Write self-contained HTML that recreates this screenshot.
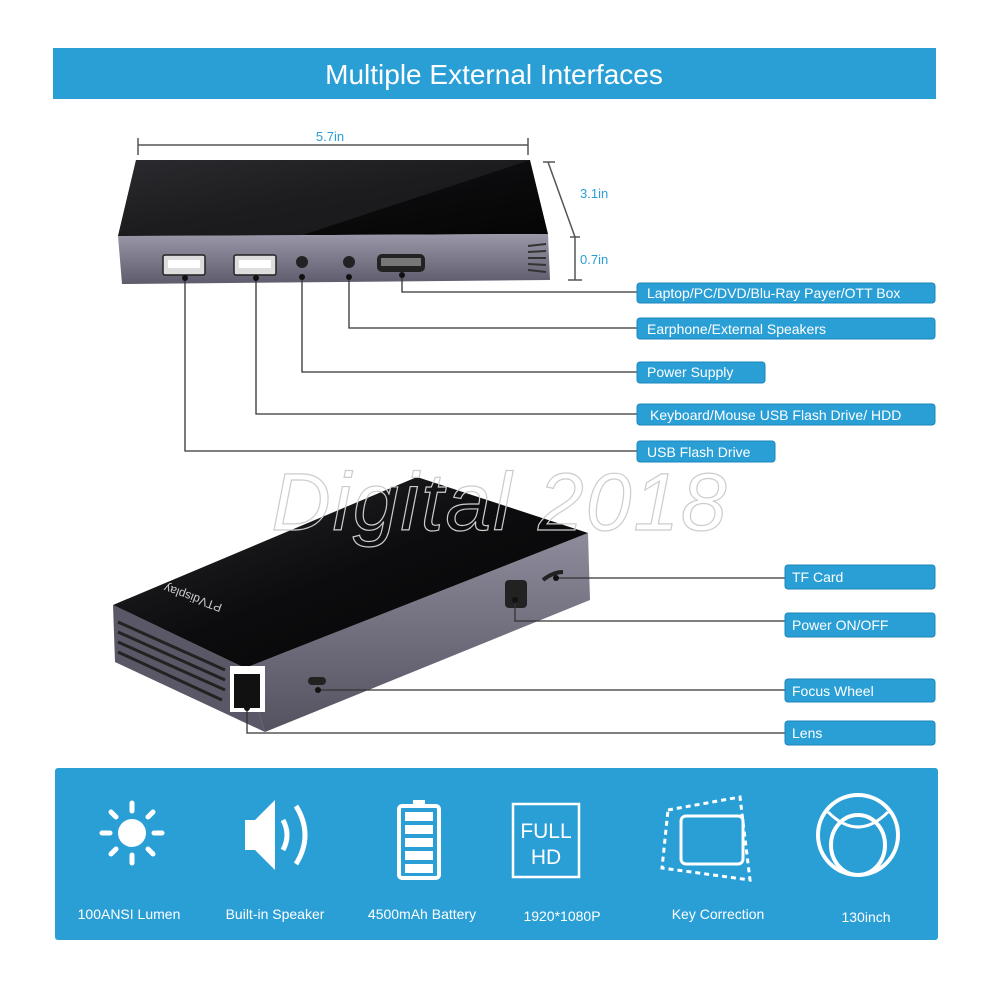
<!DOCTYPE html>
<html><head><meta charset="utf-8"><style>
html,body{margin:0;padding:0;background:#fff}
svg{display:block}
text{font-family:"Liberation Sans",sans-serif}
</style></head><body>
<svg width="1000" height="1000" viewBox="0 0 1000 1000" xmlns="http://www.w3.org/2000/svg">
<defs>
<linearGradient id="tg" x1="0" y1="0" x2="1" y2="1"><stop offset="0" stop-color="#2a2a2e"/><stop offset="0.5" stop-color="#0c0c0e"/><stop offset="1" stop-color="#050505"/></linearGradient>
<linearGradient id="sg" x1="0" y1="0" x2="0" y2="1"><stop offset="0" stop-color="#9a98a8"/><stop offset="1" stop-color="#5e5c6c"/></linearGradient>
<linearGradient id="sg2" x1="0" y1="0" x2="0" y2="1"><stop offset="0" stop-color="#8e8c9c"/><stop offset="1" stop-color="#54525f"/></linearGradient>
</defs>
<rect x="53" y="48" width="883" height="51" fill="#2a9fd6"/>
<text x="494" y="84" font-size="28" fill="#fff" text-anchor="middle">Multiple External Interfaces</text>

<g stroke="#555" stroke-width="1.5" fill="none">
<line x1="138" y1="145" x2="528" y2="145"/><line x1="138" y1="138" x2="138" y2="155"/><line x1="528" y1="138" x2="528" y2="155"/>
<line x1="548" y1="162" x2="575" y2="237"/><line x1="543" y1="162" x2="555" y2="162"/>
<line x1="570" y1="237" x2="580" y2="237"/><line x1="575" y1="237" x2="575" y2="280"/><line x1="568" y1="280" x2="582" y2="280"/>
</g>
<text x="330" y="141" font-size="13" fill="#2a9fd6" text-anchor="middle">5.7in</text>
<text x="580" y="198" font-size="13" fill="#2a9fd6">3.1in</text>
<text x="580" y="264" font-size="13" fill="#2a9fd6">0.7in</text>

<polygon points="136,160 530,160 548,234 118,236" fill="url(#tg)"/>
<polygon points="136,160 530,160 300,236 118,236" fill="#2c2c30" opacity="0.5"/>
<polygon points="118,236 548,234 550,280 122,284" fill="url(#sg)"/>
<g fill="#ddd" stroke="#222" stroke-width="1.5">
<rect x="163" y="255" width="42" height="20" rx="2"/><rect x="234" y="255" width="42" height="20" rx="2"/>
</g>
<rect x="168" y="260" width="32" height="8" fill="#fff"/><rect x="239" y="260" width="32" height="8" fill="#fff"/>
<circle cx="302" cy="262" r="6" fill="#222"/><circle cx="349" cy="262" r="6" fill="#222"/>
<rect x="377" y="254" width="48" height="18" rx="5" fill="#222"/><rect x="381" y="258" width="40" height="8" fill="#777"/>
<g stroke="#333" stroke-width="2"><line x1="528" y1="246" x2="546" y2="244"/><line x1="528" y1="252" x2="546" y2="251"/><line x1="528" y1="258" x2="546" y2="258"/><line x1="528" y1="264" x2="546" y2="265"/><line x1="528" y1="270" x2="546" y2="272"/></g>

<!-- bottom device -->
<polygon points="245,668 588,533 590,600 265,732" fill="url(#sg2)"/>
<polygon points="113,605 245,668 265,732 115,662" fill="#5a5866"/>
<polygon points="417,477 588,533 245,668 113,605" fill="url(#tg)"/>
<g stroke="#222" stroke-width="3"><line x1="118" y1="622" x2="225" y2="670"/><line x1="118" y1="632" x2="225" y2="680"/><line x1="118" y1="642" x2="225" y2="690"/><line x1="118" y1="652" x2="222" y2="700"/></g>
<rect x="230" y="666" width="35" height="46" fill="#fff"/><rect x="234" y="674" width="26" height="34" fill="#111"/>
<rect x="505" y="580" width="22" height="28" rx="4" fill="#222"/>
<path d="M543 580 q10-8 20-8" stroke="#222" stroke-width="4" fill="none"/>
<rect x="308" y="677" width="18" height="8" rx="4" fill="#222"/>
<text x="220" y="620" font-size="12" fill="#ccc" transform="rotate(200 220 612)">PTVdisplay</text>

<text x="500" y="530" font-size="82" font-style="italic" fill="none" stroke="#ccc" stroke-width="1.2" text-anchor="middle" letter-spacing="2">Digital 2018</text>

<g stroke="#333" stroke-width="1.3" fill="none">
<polyline points="402,275 402,292 637,292"/>
<polyline points="349,277 349,328 637,328"/>
<polyline points="302,277 302,372 637,372"/>
<polyline points="256,278 256,414 637,414"/>
<polyline points="185,278 185,451 637,451"/>
<polyline points="556,578 785,578"/>
<polyline points="515,600 515,621 785,621"/>
<polyline points="318,690 785,690"/>
<polyline points="247,708 247,733 785,733"/>
</g>
<g fill="#111"><circle cx="402" cy="275" r="3"/><circle cx="349" cy="277" r="3"/><circle cx="302" cy="277" r="3"/><circle cx="256" cy="278" r="3"/><circle cx="185" cy="278" r="3"/>
<circle cx="556" cy="578" r="3"/><circle cx="515" cy="600" r="3"/><circle cx="318" cy="690" r="3"/><circle cx="247" cy="708" r="3"/></g>

<g fill="#2a9fd6" stroke="#1b86bb" stroke-width="1">
<rect x="637" y="283" width="298" height="20" rx="3"/>
<rect x="637" y="318" width="298" height="21" rx="3"/>
<rect x="637" y="362" width="128" height="21" rx="3"/>
<rect x="637" y="404" width="298" height="21" rx="3"/>
<rect x="637" y="441" width="138" height="21" rx="3"/>
<rect x="785" y="565" width="150" height="24" rx="3"/>
<rect x="785" y="613" width="150" height="24" rx="3"/>
<rect x="785" y="679" width="150" height="23" rx="3"/>
<rect x="785" y="721" width="150" height="24" rx="3"/>
</g>
<g fill="#fff" font-size="14">
<text x="647" y="298">Laptop/PC/DVD/Blu-Ray Payer/OTT Box</text>
<text x="647" y="334">Earphone/External Speakers</text>
<text x="647" y="377">Power Supply</text>
<text x="650" y="420">Keyboard/Mouse USB Flash Drive/ HDD</text>
<text x="647" y="457">USB Flash Drive</text>
<text x="792" y="582">TF Card</text>
<text x="792" y="630">Power ON/OFF</text>
<text x="792" y="696">Focus Wheel</text>
<text x="792" y="738">Lens</text>
</g>

<rect x="55" y="768" width="883" height="172" rx="3" fill="#2a9fd6"/>
<g fill="#fff" stroke="#fff">
<circle cx="132" cy="833" r="14" stroke="none"/>
<g stroke-width="5" stroke-linecap="round"><line x1="132" y1="803" x2="132" y2="811"/><line x1="132" y1="855" x2="132" y2="863"/><line x1="102" y1="833" x2="110" y2="833"/><line x1="154" y1="833" x2="162" y2="833"/><line x1="111" y1="812" x2="116" y2="817"/><line x1="148" y1="849" x2="153" y2="854"/><line x1="153" y1="812" x2="148" y2="817"/><line x1="116" y1="849" x2="111" y2="854"/></g>
<polygon points="245,820 255,820 275,800 275,870 255,850 245,850" stroke="none"/>
<path d="M283 820 q8 15 0 30" stroke-width="5" fill="none"/><path d="M296 806 q18 29 0 58" stroke-width="5" fill="none"/>
<rect x="399" y="806" width="40" height="72" rx="3" fill="none" stroke-width="4"/><rect x="413" y="800" width="12" height="6" stroke="none"/>
<g stroke="none"><rect x="405" y="812" width="28" height="9"/><rect x="405" y="825" width="28" height="9"/><rect x="405" y="838" width="28" height="9"/><rect x="405" y="851" width="28" height="9"/><rect x="405" y="864" width="28" height="9"/></g>
<rect x="513" y="804" width="66" height="73" fill="none" stroke-width="2.5"/>
<rect x="681" y="816" width="62" height="48" rx="5" fill="none" stroke-width="3"/>
<polygon points="668,810 740,797 750,880 662,868" fill="none" stroke-width="3" stroke-dasharray="5,4"/>
<circle cx="858" cy="835" r="40" fill="none" stroke-width="4"/>
<ellipse cx="858" cy="845" rx="27" ry="30" fill="none" stroke-width="4"/>
<path d="M828 812 q30 30 60 0" fill="none" stroke-width="3"/>
</g>
<text x="546" y="838" font-size="21" fill="#fff" text-anchor="middle">FULL</text>
<text x="546" y="864" font-size="21" fill="#fff" text-anchor="middle">HD</text>
<g fill="#fff" font-size="14" text-anchor="middle">
<text x="129" y="919">100ANSI Lumen</text>
<text x="275" y="919">Built-in Speaker</text>
<text x="422" y="919">4500mAh Battery</text>
<text x="562" y="921">1920*1080P</text>
<text x="718" y="919">Key Correction</text>
<text x="866" y="922">130inch</text>
</g>
</svg>
</body></html>
